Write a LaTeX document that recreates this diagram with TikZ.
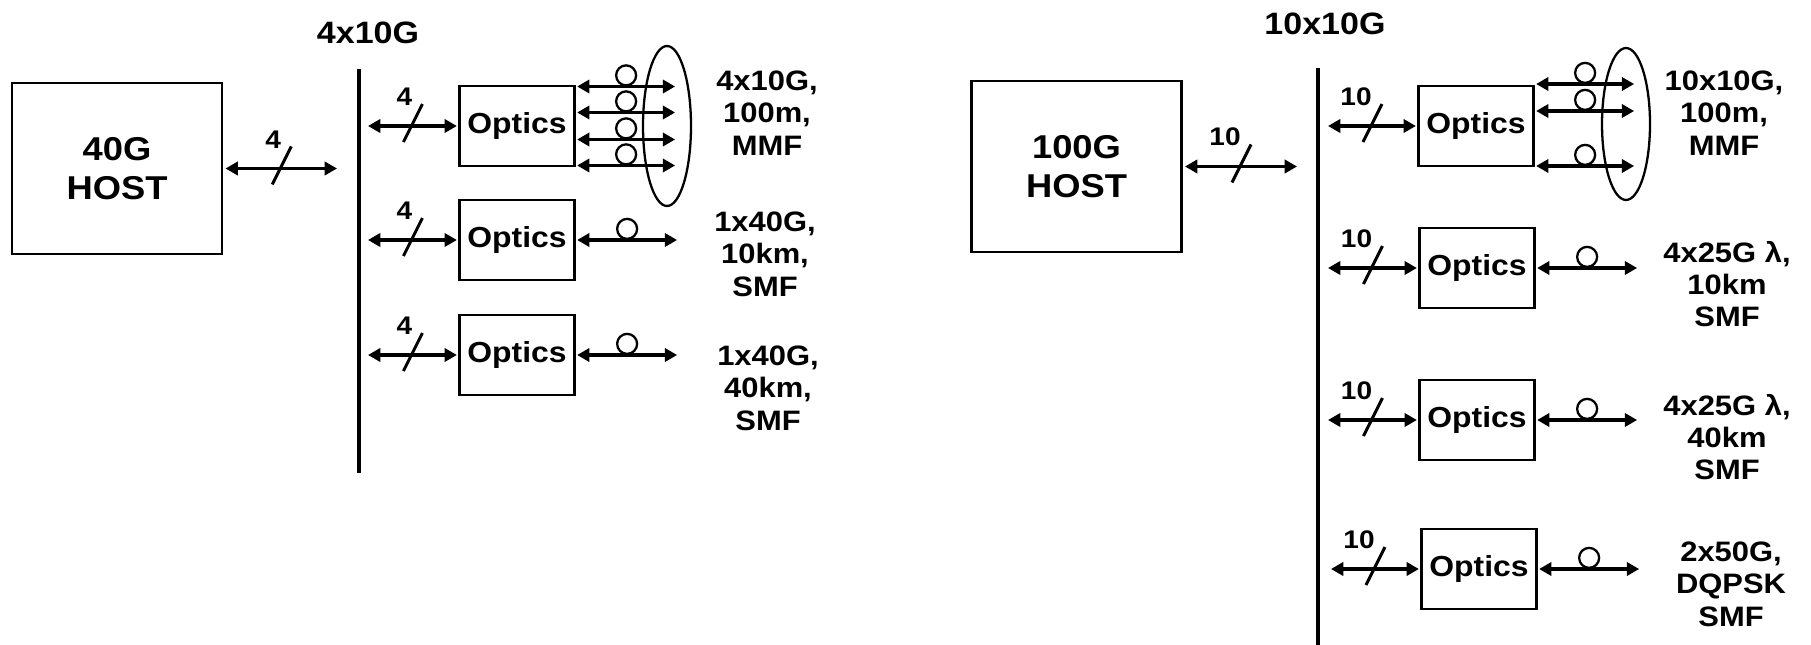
\documentclass[tikz,border=0pt]{standalone}
\usepackage{fontspec}
\setmainfont{Liberation Sans}[FakeStretch=1.1]
\usetikzlibrary{arrows.meta, shapes.geometric, calc}
\tikzset{
    host/.style={draw, line width=1.3pt, minimum width=4.2cm, minimum height=3.42cm, align=center, outer sep=2pt, font=\fontsize{18.8}{22.2}\selectfont\bfseries},
    optics/.style={draw, line width=1.3pt, minimum width=2.3cm, minimum height=1.6cm, outer sep=1.5pt, font=\fontsize{16.5}{18.2}\selectfont\bfseries},
    medium/.style={align=center, font=\fontsize{16}{18.4}\selectfont\bfseries},
    title/.style={font=\fontsize{17.6}{20}\selectfont\bfseries},
    count/.style={anchor=south east, yshift=0.4cm, inner sep=0pt, font=\fontsize{14.5}{16}\selectfont\bfseries},
    bus/.style={line width=2.5pt},
    arrow/.style={<->, >={Triangle[length=7pt, width=7.5pt]}, line width=2pt},
    slash/.style={line width=1.7pt},
    loopmark/.style={circle, draw, line width=1.3pt, minimum size=0.4cm, inner sep=0pt, anchor=south},
    bundle/.style={ellipse, draw, line width=1.3pt, minimum width=0.96cm}
}

\begin{document}
\begin{tikzpicture}[x=0.02cm, y=-0.02cm]
    \useasboundingbox (0,0) rectangle (1811,645);

    % 40G side
    \node[title] (t40) at (368,33) {4x10G};
    \node[host] (host40) at (117,168.5) {40G\\HOST};
    \coordinate (h40) at (337,168.5);
    \coordinate (bus40top) at (359,69);
    \coordinate (bus40bot) at (359,473);
    \draw[bus] (bus40top) -- (bus40bot);

    \draw[arrow] (host40) -- (h40) coordinate[midway] (s40);
    \draw[slash] ($(s40)+(10,-22)$) -- ($(s40)+(-9,16)$);
    \node[count] at (s40) {4};

    \node[optics] (opt40a) at (517,126) {Optics};
    \node[optics] (opt40b) at (517,240) {Optics};
    \node[optics] (opt40c) at (517,355) {Optics};
    \coordinate (b40a) at (368,126);
    \coordinate (b40b) at (368,240);
    \coordinate (b40c) at (368,355);

    \draw[arrow] (b40a) -- (opt40a) coordinate[midway] (s40a);
    \draw[slash] ($(s40a)+(10,-22)$) -- ($(s40a)+(-9,16)$);
    \node[count] at (s40a) {4};
    \draw[arrow] (b40b) -- (opt40b) coordinate[midway] (s40b);
    \draw[slash] ($(s40b)+(10,-22)$) -- ($(s40b)+(-9,16)$);
    \node[count] at (s40b) {4};
    \draw[arrow] (b40c) -- (opt40c) coordinate[midway] (s40c);
    \draw[slash] ($(s40c)+(10,-22)$) -- ($(s40c)+(-9,16)$);
    \node[count] at (s40c) {4};

    % 4 fibres, MMF
    \node[bundle, minimum height=3.2cm] (mmf40) at (667,126) {};
    \draw[arrow] ([yshift=0.79cm]opt40a.east) -- ++(98,0) node[midway, loopmark] {};
    \draw[arrow] ([yshift=0.27cm]opt40a.east) -- ++(98,0) node[midway, loopmark] {};
    \draw[arrow] ([yshift=-0.27cm]opt40a.east) -- ++(98,0) node[midway, loopmark] {};
    \draw[arrow] ([yshift=-0.79cm]opt40a.east) -- ++(98,0) node[midway, loopmark] {};
    \draw[arrow] (opt40b.east) -- ++(100,0) node[midway, loopmark] {};
    \draw[arrow] (opt40c.east) -- ++(100,0) node[midway, loopmark] {};

    \node[medium] (m40a) at (767,113) {4x10G,\\100m,\\MMF};
    \node[medium] (m40b) at (765,254) {1x40G,\\10km,\\SMF};
    \node[medium] (m40c) at (768,388) {1x40G,\\40km,\\SMF};

    % 100G side
    \node[title] (t100) at (1325,24) {10x10G};
    \node[host] (host100) at (1076.5,166.5) {100G\\HOST};
    \coordinate (h100) at (1297,166.5);
    \coordinate (bus100top) at (1318,68);
    \coordinate (bus100bot) at (1318,645);
    \draw[bus] (bus100top) -- (bus100bot);

    \draw[arrow] (host100) -- (h100) coordinate[midway] (s100);
    \draw[slash] ($(s100)+(10,-22)$) -- ($(s100)+(-9,16)$);
    \node[count] at (s100) {10};

    \node[optics] (opt100a) at (1476,126) {Optics};
    \node[optics] (opt100b) at (1477,268) {Optics};
    \node[optics] (opt100c) at (1477,420) {Optics};
    \node[optics] (opt100d) at (1479,569) {Optics};
    \coordinate (b100a) at (1328,126);
    \coordinate (b100b) at (1328,268);
    \coordinate (b100c) at (1328,420);
    \coordinate (b100d) at (1331,569);

    \draw[arrow] (b100a) -- (opt100a) coordinate[midway] (s100a);
    \draw[slash] ($(s100a)+(10,-22)$) -- ($(s100a)+(-9,16)$);
    \node[count] at (s100a) {10};
    \draw[arrow] (b100b) -- (opt100b) coordinate[midway] (s100b);
    \draw[slash] ($(s100b)+(10,-22)$) -- ($(s100b)+(-9,16)$);
    \node[count] at (s100b) {10};
    \draw[arrow] (b100c) -- (opt100c) coordinate[midway] (s100c);
    \draw[slash] ($(s100c)+(10,-22)$) -- ($(s100c)+(-9,16)$);
    \node[count] at (s100c) {10};
    \draw[arrow] (b100d) -- (opt100d) coordinate[midway] (s100d);
    \draw[slash] ($(s100d)+(10,-22)$) -- ($(s100d)+(-9,16)$);
    \node[count] at (s100d) {10};

    % 10 fibres, MMF
    \node[bundle, minimum height=3.04cm] (mmf100) at (1626,124) {};
    \draw[arrow] ([yshift=0.84cm]opt100a.east) -- ++(98,0) node[midway, loopmark] {};
    \draw[arrow] ([yshift=0.3cm]opt100a.east) -- ++(98,0) node[midway, loopmark] {};
    \draw[arrow] ([yshift=-0.8cm]opt100a.east) -- ++(98,0) node[midway, loopmark] {};
    \draw[arrow] (opt100b.east) -- ++(100,0) node[midway, loopmark] {};
    \draw[arrow] (opt100c.east) -- ++(100,0) node[midway, loopmark] {};
    \draw[arrow] (opt100d.east) -- ++(100,0) node[midway, loopmark] {};

    \node[medium] (m100a) at (1724,113) {10x10G,\\100m,\\MMF};
    \node[medium] (m100b) at (1727,284) {4x25G λ,\\10km\\SMF};
    \node[medium] (m100c) at (1727,437) {4x25G λ,\\40km\\SMF};
    \node[medium] (m100d) at (1731,584) {2x50G,\\DQPSK\\SMF};
\end{tikzpicture}
\end{document}
